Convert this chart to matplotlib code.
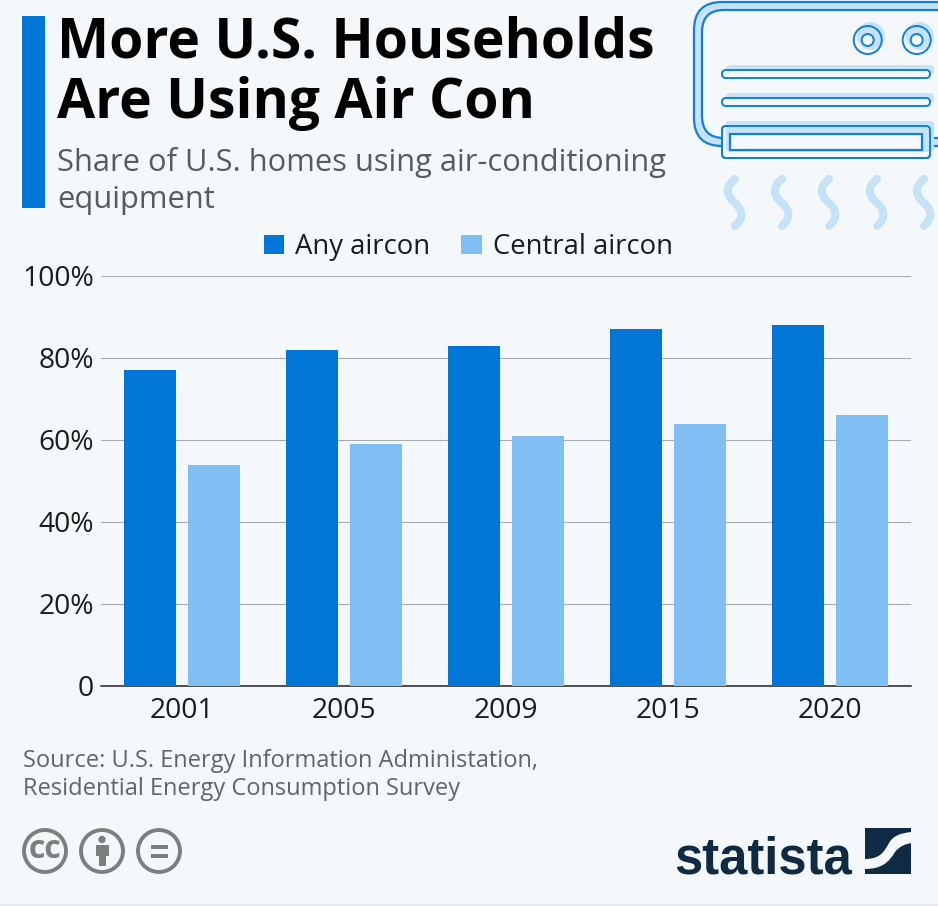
"""Statista chart: share of U.S. homes using air-conditioning equipment."""

import matplotlib

matplotlib.use("Agg")
import matplotlib.pyplot as plt
import numpy as np
from matplotlib.patches import Circle, FancyBboxPatch, PathPatch, Rectangle
from matplotlib.path import Path

years = ["2001", "2005", "2009", "2015", "2020"]
any_aircon = [77, 82, 83, 87, 88]
central_aircon = [54, 59, 61, 64, 66]
y_ticks = [0, 20, 40, 60, 80, 100]
y_labels = ["0", "20%", "40%", "60%", "80%", "100%"]

W, H = 938, 906
BG = "#f4f8fb"
BLUE = "#0076d6"
LIGHT = "#7fbff3"
SHADE = "#c6e2f6"
LINE = "#1080dc"
GRAY = "#7b807e"
NAVY = "#0f2a43"

plt.rcParams["font.family"] = ["Open Sans", "DejaVu Sans"]

fig = plt.figure(figsize=(W / 100, H / 100), dpi=100, facecolor=BG)

# overlay in pixel coordinates for header, icon and logos
deco = fig.add_axes([0, 0, 1, 1], zorder=0)
deco.set_xlim(0, W)
deco.set_ylim(H, 0)
deco.axis("off")

deco.add_patch(Rectangle((0, 904), W, 2, fc="#e6e8ea", ec="none"))
deco.add_patch(Rectangle((22, 16), 23, 192, fc=BLUE, ec="none"))
deco.text(57, 57, "More U.S. Households", fontsize=39.8, fontweight="bold", color="black", va="baseline")
deco.text(57, 118, "Are Using Air Con", fontsize=39.8, fontweight="bold", color="black", va="baseline")
deco.text(57, 162, "Share of U.S. homes using air-conditioning", fontsize=22.25, color="#555b5e", va="center")
deco.text(57, 200, "equipment", fontsize=22.25, color="#555b5e", va="center")
deco.text(23, 761, "Source: U.S. Energy Information Administation,", fontsize=17, color="#5f6568", va="center")
deco.text(23, 789, "Residential Energy Consumption Survey", fontsize=17, color="#5f6568", va="center")


def round_box(x0, y0, x1, y1, r, **kw):
    deco.add_patch(FancyBboxPatch((x0 + r, y0 + r), x1 - x0 - 2 * r, y1 - y0 - 2 * r,
                                  boxstyle=f"round,pad={r},rounding_size={r}", **kw))


# air con unit
round_box(694, 2, 990, 146, 28, fc=SHADE, ec=LINE, lw=1.6)
round_box(702, 10, 990, 138, 22, fc=BG, ec=LINE, lw=1.6)
for cx in [867.7, 916.7]:
    deco.add_patch(Circle((cx + 3, 36), 14, fc=SHADE, ec="none"))
    deco.add_patch(Circle((cx, 40), 14, fc="none", ec=LINE, lw=1.4))
    deco.add_patch(Circle((cx, 40), 6, fc=BG, ec=LINE, lw=1.4))
for y in [70, 98]:
    round_box(726, y - 5, 934, y + 5, 4, fc=SHADE, ec="none")
    round_box(722, y, 930, y + 8, 4, fc=BG, ec=LINE, lw=1.4)
round_box(722, 126, 930, 158, 4, fc=BG, ec=LINE, lw=1.4)
round_box(726, 121, 934, 152, 4, fc=SHADE, ec="none")
deco.add_patch(Rectangle((730, 134), 192, 16, fc=BG, ec=LINE, lw=1.6))
round_box(722, 126, 930, 158, 4, fc="none", ec=LINE, lw=1.4)
for wx in [735, 782, 829, 877, 924]:
    verts = [(wx, 179), (wx - 11, 188), (wx - 8, 196), (wx, 203),
             (wx + 8, 210), (wx + 9, 218), (wx, 226)]
    codes = [Path.MOVETO] + [Path.CURVE4] * 6
    deco.add_patch(PathPatch(Path(verts, codes), fc="none", ec=SHADE, lw=5.8, capstyle="round"))

# licence icons
for cx in [45, 102, 159]:
    deco.add_patch(Circle((cx, 851), 21, fc="none", ec=GRAY, lw=2.8))
deco.text(45, 850, "cc", fontsize=23, fontweight="bold", color=GRAY, ha="center", va="center")
deco.add_patch(Circle((102, 839.5), 3.7, fc=GRAY, ec="none"))
deco.add_patch(Rectangle((96, 845), 12.5, 11, fc=GRAY, ec="none"))
deco.add_patch(Rectangle((99, 856), 7, 10, fc=GRAY, ec="none"))
deco.add_patch(Rectangle((151, 845), 17, 4, fc=GRAY, ec="none"))
deco.add_patch(Rectangle((151, 854), 17, 4, fc=GRAY, ec="none"))

# statista logo
deco.text(674, 873, "statista", fontsize=36.5, fontweight="bold", color=NAVY, va="baseline",
          family=["Liberation Sans"])
deco.add_patch(Rectangle((865, 828), 46, 46, fc=NAVY, ec="none"))
swoosh = [(865, 859), (880, 859), (884, 852), (889, 843), (893, 836), (900, 833), (912, 832),
          (912, 843), (905, 844), (900, 846), (895, 852), (889, 862), (882, 869), (865, 869), (865, 859)]
swoosh_codes = [Path.MOVETO] + [Path.CURVE4] * 6 + [Path.LINETO] + [Path.CURVE4] * 6 + [Path.CLOSEPOLY]
deco.add_patch(PathPatch(Path(swoosh, swoosh_codes), fc=BG, ec="none"))

# chart
ax = fig.add_axes([101 / W, 1 - 686 / H, 810 / W, 410 / H], zorder=1)
ax.patch.set_alpha(0)
x = np.arange(len(years))
bar_w = 52 / 162
off = 32 / 162
ax.bar(x - off, any_aircon, bar_w, color=BLUE, label="Any aircon", zorder=3)
ax.bar(x + off, central_aircon, bar_w, color=LIGHT, label="Central aircon", zorder=3)
ax.set_xlim(-0.5, 4.5)
ax.set_ylim(0, 100)
ax.set_xticks(x, years)
ax.set_yticks(y_ticks, y_labels)
ax.tick_params(axis="both", length=0, labelsize=20.3, colors="#1c1c1c")
ax.tick_params(axis="x", pad=8)
ax.tick_params(axis="y", pad=5)
ax.grid(axis="y", color="#a6abad", lw=0.8, zorder=0)
for side in ["top", "right", "left"]:
    ax.spines[side].set_visible(False)
ax.spines["bottom"].set_color("#222222")
ax.spines["bottom"].set_linewidth(1.1)
ax.legend(loc="lower center", bbox_to_anchor=(0.4535, 1.0365), ncol=2, frameon=False, fontsize=19.8,
          labelcolor="#1c1c1c", handlelength=0.73, handleheight=0.73, handletextpad=0.4,
          columnspacing=1.13, borderaxespad=0, borderpad=0)

fig.savefig("out.png", dpi=100, facecolor=BG)
